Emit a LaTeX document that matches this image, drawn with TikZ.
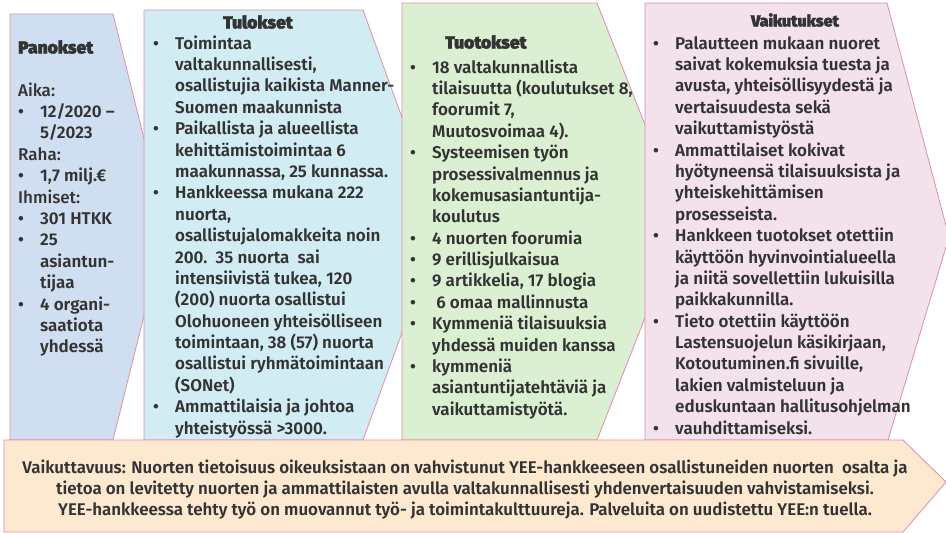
\documentclass[tikz,border=0pt]{standalone}
\usepackage{fontspec}
\setmainfont{Fira Sans}
\newfontfamily\bodyfont{Fira Sans SemiBold}
\newfontfamily\medfont{Fira Sans Medium}
\newfontfamily\headfont{Fira Sans Black}[FakeBold=1.5]
\definecolor{panfill}{HTML}{CFDEF1}
\definecolor{tulfill}{HTML}{D2ECF3}
\definecolor{tuofill}{HTML}{DBEFD2}
\definecolor{vaifill}{HTML}{F3E1EC}
\definecolor{botfill}{HTML}{FDE9CF}
\definecolor{bordercol}{HTML}{DC8FAE}
\definecolor{textcol}{HTML}{333333}
\newcommand\bu{\makebox[22pt][l]{•}}
\newcommand\lab[1]{\multicolumn{2}{@{}l@{}}{\medfont #1}}
\begin{document}
\begin{tikzpicture}[x=1pt,y=-1pt]
\tikzset{
  colshape/.style={draw=bordercol, line width=0.8pt},
  txt/.style={inner sep=0pt, anchor=base west, text=textcol, font=\bodyfont\fontsize{17}{21.4}\selectfont},
  head/.style={inner sep=0pt, text=textcol, font=\headfont\fontsize{17.5}{19}\selectfont},
}
\useasboundingbox (0,0) rectangle (946,533);
\fill[white] (0,0) rectangle (946,533);
% Panokset
\path[colshape, fill=panfill] (10,14) -- (113,14) -- (166,227) -- (113,440) -- (10,440) -- cycle;
\node[head, anchor=base west] (panh) at (18,53.5) {Panokset};
\node[txt] (pant) at (18,96) {\begin{tabular}[t]{@{}l@{}l@{}}
\lab{Aika:}\\
\bu & 12/2020 –\\
 & 5/2023\\
\lab{Raha:}\\
\bu & 1,7 milj.€\\
\lab{Ihmiset:}\\
\bu & 301 HTKK\\
\bu & 25\\
 & asiantun-\\
 & tijaa\\
\bu & 4 organi-\\
 & saatiota\\
 & yhdessä
\end{tabular}};
% Tulokset
\path[colshape, fill=tulfill] (144,10) -- (363,10) -- (441,225) -- (363,440) -- (144,440) -- cycle;
\node[head, anchor=base] (tulh) at (258,28.5) {Tulokset};
\node[txt] (tult) at (153,49) {\begin{tabular}[t]{@{}l@{}l@{}}
\bu & Toimintaa\\
 & valtakunnallisesti,\\
 & osallistujia kaikista Manner-\\
 & Suomen maakunnista\\
\bu & Paikallista ja alueellista\\
 & kehittämistoimintaa 6\\
 & maakunnassa, 25 kunnassa.\\
\bu & Hankkeessa mukana 222\\
 & nuorta,\\
 & osallistujalomakkeita noin\\
 & 200.\ \ 35 nuorta\ \ sai\\
 & intensiivistä tukea, 120\\
 & (200) nuorta osallistui\\
 & Olohuoneen yhteisölliseen\\
 & toimintaan, 38 (57) nuorta\\
 & osallistui ryhmätoimintaan\\
 & (SONet)\\
\bu & Ammattilaisia ja johtoa\\
 & yhteistyössä >3000.
\end{tabular}};
% Tuotokset
\path[colshape, fill=tuofill] (402,3) -- (597,3) -- (683,221) -- (597,440) -- (402,440) -- cycle;
\node[head, anchor=base west] (tuoh) at (445,48.5) {Tuotokset};
\node[txt] (tuot) at (410,73) {\begin{tabular}[t]{@{}l@{}l@{}}
\bu & 18 valtakunnallista\\
 & tilaisuutta (koulutukset 8,\\
 & foorumit 7,\\
 & Muutosvoimaa 4).\\
\bu & Systeemisen työn\\
 & prosessivalmennus ja\\
 & kokemusasiantuntija-\\
 & koulutus\\
\bu & 4 nuorten foorumia\\
\bu & 9 erillisjulkaisua\\
\bu & 9 artikkelia, 17 blogia\\
\bu & \ 6 omaa mallinnusta\\
\bu & Kymmeniä tilaisuuksia\\
 & yhdessä muiden kanssa\\
\bu & kymmeniä\\
 & asiantuntijatehtäviä ja\\
 & vaikuttamistyötä.
\end{tabular}};
% Vaikutukset
\path[colshape, fill=vaifill] (645,3) -- (887,3) -- (949,237) -- (888,440) -- (645,440) -- cycle;
\node[head, anchor=base, font=\headfont\fontsize{16}{19}\selectfont] (vaih) at (795,26.5) {Vaikutukset};
\node[txt] (vait) at (653,49) {\begin{tabular}[t]{@{}l@{}l@{}}
\bu & Palautteen mukaan nuoret\\
 & saivat kokemuksia tuesta ja\\
 & avusta, yhteisöllisyydestä ja\\
 & vertaisuudesta sekä\\
 & vaikuttamistyöstä\\
\bu & Ammattilaiset kokivat\\
 & hyötyneensä tilaisuuksista ja\\
 & yhteiskehittämisen\\
 & prosesseista.\\
\bu & Hankkeen tuotokset otettiin\\
 & käyttöön hyvinvointialueella\\
 & ja niitä sovellettiin lukuisilla\\
 & paikkakunnilla.\\
\bu & Tieto otettiin käyttöön\\
 & Lastensuojelun käsikirjaan,\\
 & Kotoutuminen.fi sivuille,\\
 & lakien valmisteluun ja\\
 & eduskuntaan hallitusohjelman\\
\bu & vauhdittamiseksi.
\end{tabular}};
% Vaikuttavuus
\path[colshape, fill=botfill] (4,440) -- (903,440) -- (946,482) -- (903,532) -- (4,532) -- cycle;
\node[inner sep=0pt, anchor=base, text=textcol, align=center, font=\bodyfont\fontsize{16.9}{21}\selectfont] (bott) at (465,515) {Vaikuttavuus: Nuorten tietoisuus oikeuksistaan on vahvistunut YEE-hankkeeseen osallistuneiden nuorten\ \ osalta ja\\
tietoa on levitetty nuorten ja ammattilaisten avulla valtakunnallisesti yhdenvertaisuuden vahvistamiseksi.\\
YEE-hankkeessa tehty työ on muovannut työ- ja toimintakulttuureja. Palveluita on uudistettu YEE:n tuella.};
\end{tikzpicture}
\end{document}
